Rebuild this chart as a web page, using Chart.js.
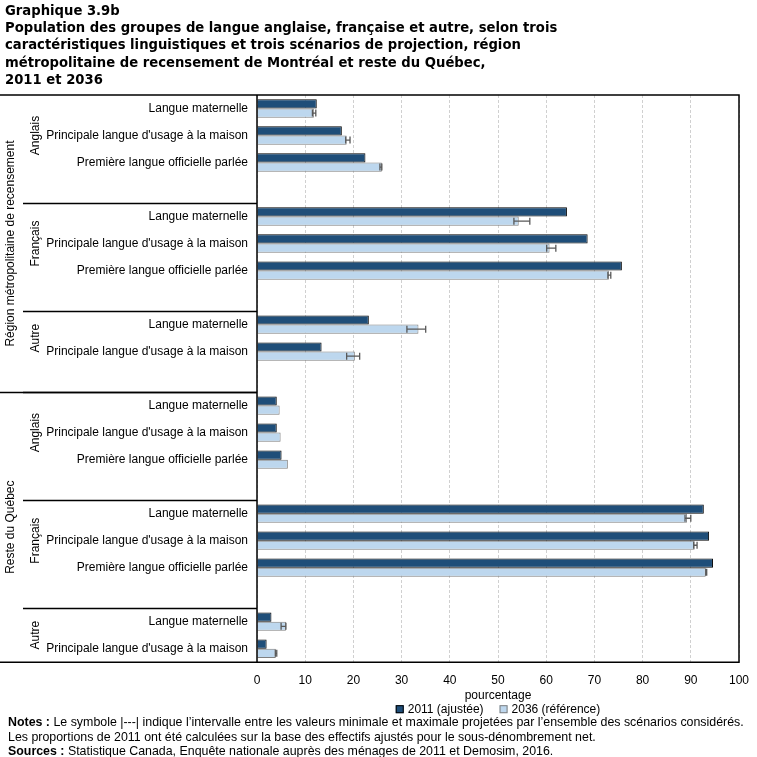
<!DOCTYPE html>
<html lang="fr">
<head>
<meta charset="utf-8">
<script src="https://cdn.jsdelivr.net/npm/chart.js@4.4.1/dist/chart.umd.min.js"></script>
<style>
  body { margin: 0; background: #fff; }
  #wrap { position: relative; width: 757px; height: 757px; }
  #chart { position: absolute; left: 0; top: 0; }
  #title {
    position: absolute; left: 5px; top: 2px;
    font: bold 13.2px "DejaVu Sans", Verdana, sans-serif; line-height: 17.2px; color: #000;
  }
  #notes {
    position: absolute; left: 8px; top: 715px;
    font: 12.4px "Liberation Sans", Arial, sans-serif; line-height: 14.5px; color: #000;
  }
</style>
</head>
<body>
<div id="wrap">
  <canvas id="chart" width="757" height="757"></canvas>
  <div id="title">Graphique 3.9b<br>Population des groupes de langue anglaise, française et autre, selon trois<br>caractéristiques linguistiques et trois scénarios de projection, région<br>métropolitaine de recensement de Montréal et reste du Québec,<br>2011 et 2036</div>
  <div id="notes"><b>Notes :</b> Le symbole |---| indique l’intervalle entre les valeurs minimale et maximale projetées par l’ensemble des scénarios considérés.<br>Les proportions de 2011 ont été calculées sur la base des effectifs ajustés pour le sous-dénombrement net.<br><b>Sources :</b> Statistique Canada, Enquête nationale auprès des ménages de 2011 et Demosim, 2016.</div>
</div>
<script>
// --- Data ---
const LM = "Langue maternelle";
const PL = "Principale langue d'usage à la maison";
const PO = "Première langue officielle parlée";

const rowLabels = [LM, PL, PO, "", LM, PL, PO, "", LM, PL, "",
                   LM, PL, PO, "", LM, PL, PO, "", LM, PL];
const rowGroups = ["Anglais", "Anglais", "Anglais", "Anglais",
                   "Français", "Français", "Français", "Français",
                   "Autre", "Autre", "Autre",
                   "Anglais", "Anglais", "Anglais", "Anglais",
                   "Français", "Français", "Français", "Français",
                   "Autre", "Autre"];
const RMR = "Région métropolitaine de recensement";
const RQ = "Reste du Québec";
const rowRegions = [RMR, RMR, RMR, RMR, RMR, RMR, RMR, RMR, RMR, RMR, RMR,
                    RQ, RQ, RQ, RQ, RQ, RQ, RQ, RQ, RQ, RQ];

const values2011 = [12.4, 17.6, 22.5, null, 64.3, 68.6, 75.7, null, 23.2, 13.4, null,
                    4.1, 4.1, 5.1, null, 92.7, 93.8, 94.6, null, 3.0, 2.0];
const values2036 = [11.8, 18.6, 25.9, null, 54.3, 60.7, 73.0, null, 33.5, 20.3, null,
                    4.7, 4.9, 6.4, null, 89.2, 90.8, 93.1, null, 6.0, 3.9];
// projected range over all scenarios (2036)
const min2036 = [11.5, 18.4, 25.5, null, 53.3, 60.1, 72.8, null, 31.1, 18.6, null,
                 null, null, null, null, 88.8, 90.6, 93.1, null, 5.0, 3.8];
const max2036 = [12.2, 19.3, 25.9, null, 56.6, 62.0, 73.4, null, 35.0, 21.3, null,
                 null, null, null, null, 90.0, 91.3, 93.3, null, 6.0, 4.1];

const xTicks = [0, 10, 20, 30, 40, 50, 60, 70, 80, 90, 100];

// --- Helpers ---
function runs(arr) {
  const out = [];
  arr.forEach((v, i) => {
    if (i === 0 || arr[i - 1] !== v) out.push({ name: v, start: i, end: i });
    else out[out.length - 1].end = i;
  });
  return out;
}

const LABEL_FONT = '12px "Liberation Sans", Arial, sans-serif';

// error bars on the 2036 series
const errorBars = {
  id: "errorBars",
  afterDatasetsDraw(chart) {
    const ctx = chart.ctx;
    const meta = chart.getDatasetMeta(1);
    const xs = chart.scales.x;
    ctx.save();
    ctx.strokeStyle = "#595959";
    ctx.lineWidth = 1.3;
    meta.data.forEach((bar, i) => {
      if (min2036[i] == null || max2036[i] == null) return;
      const x1 = xs.getPixelForValue(min2036[i]);
      const x2 = xs.getPixelForValue(max2036[i]);
      const y = bar.y;
      const h = 3.5;
      ctx.beginPath();
      ctx.moveTo(x1, y); ctx.lineTo(x2, y);
      ctx.moveTo(x1, y - h); ctx.lineTo(x1, y + h);
      ctx.moveTo(x2, y - h); ctx.lineTo(x2, y + h);
      ctx.stroke();
    });
    ctx.restore();
  }
};

// frame, separators, the three levels of row labels and the legend
const sideLabels = {
  id: "sideLabels",
  afterDraw(chart) {
    const ctx = chart.ctx;
    const ys = chart.scales.y;
    const area = chart.chartArea;
    const rowH = ys.getPixelForValue(1) - ys.getPixelForValue(0);
    const top = (i) => ys.getPixelForValue(i) - rowH / 2;
    const bottom = (i) => ys.getPixelForValue(i) + rowH / 2;

    ctx.save();
    ctx.fillStyle = "#000";
    ctx.font = LABEL_FONT;

    // category labels
    ctx.textAlign = "right";
    ctx.textBaseline = "middle";
    rowLabels.forEach((lab, i) => {
      if (lab) ctx.fillText(lab, area.left - 9, ys.getPixelForValue(i));
    });

    ctx.strokeStyle = "#000";
    ctx.lineWidth = 1.5;

    // language groups
    runs(rowGroups.map((g, i) => rowRegions[i] + "|" + g)).forEach((r, k) => {
      const name = r.name.split("|")[1];
      let last = r.end;
      while (last > r.start && !rowLabels[last]) last--;
      const cy = (top(r.start) + bottom(last)) / 2;
      ctx.save();
      ctx.translate(36, cy);
      ctx.rotate(-Math.PI / 2);
      ctx.textAlign = "center";
      ctx.fillText(name, 0, 0);
      ctx.restore();
      if (k > 0) {
        ctx.beginPath();
        ctx.moveTo(23, Math.round(top(r.start)) + 0.5);
        ctx.lineTo(area.left, Math.round(top(r.start)) + 0.5);
        ctx.stroke();
      }
    });

    // regions
    runs(rowRegions).forEach((r, k) => {
      const cy = (top(r.start) + bottom(r.end)) / 2;
      ctx.save();
      ctx.translate(11, cy);
      ctx.rotate(-Math.PI / 2);
      ctx.textAlign = "center";
      ctx.fillText(r.name, 0, 0);
      ctx.restore();
      if (k > 0) {
        ctx.beginPath();
        ctx.moveTo(0, Math.round(top(r.start)) + 0.5);
        ctx.lineTo(area.left, Math.round(top(r.start)) + 0.5);
        ctx.stroke();
      }
    });

    // outer frame
    ctx.beginPath();
    ctx.moveTo(0, area.top); ctx.lineTo(area.right, area.top);
    ctx.lineTo(area.right, area.bottom); ctx.lineTo(0, area.bottom);
    ctx.moveTo(area.left, area.top); ctx.lineTo(area.left, area.bottom);
    ctx.stroke();

    // legend
    const sets = chart.data.datasets;
    const box = 8, gap = 4, spacing = 16;
    const widths = sets.map((d) => ctx.measureText(d.label).width);
    const total = widths.reduce((a, w) => a + box + gap + w, 0) + spacing * (sets.length - 1);
    let lx = (area.left + area.right) / 2 - total / 2;
    const ly = area.bottom + 47;
    ctx.textAlign = "left";
    ctx.lineWidth = 1;
    sets.forEach((d, i) => {
      ctx.fillStyle = d.backgroundColor;
      ctx.fillRect(lx, ly - box / 2, box, box);
      ctx.strokeStyle = d.borderColor;
      ctx.strokeRect(lx + 0.5, ly - box / 2 + 0.5, box - 1, box - 1);
      ctx.fillStyle = "#000";
      ctx.fillText(d.label, lx + box + gap, ly);
      lx += box + gap + widths[i] + spacing;
    });
    ctx.restore();
  }
};

Chart.defaults.font.family = '"Liberation Sans", Arial, sans-serif';
Chart.defaults.font.size = 12;
Chart.defaults.color = "#000";

new Chart(document.getElementById("chart"), {
  type: "bar",
  data: {
    labels: rowLabels,
    datasets: [
      {
        label: "2011 (ajustée)",
        data: values2011,
        backgroundColor: "#1f4e79",
        borderColor: "#000000",
        borderWidth: 1
      },
      {
        label: "2036 (référence)",
        data: values2036,
        backgroundColor: "#bdd7ee",
        borderColor: "#7f7f7f",
        borderWidth: 1
      }
    ]
  },
  options: {
    indexAxis: "y",
    responsive: false,
    animation: false,
    layout: { padding: { left: 257, top: 95, right: 18, bottom: 54 } },
    datasets: { bar: { categoryPercentage: 0.68, barPercentage: 1 } },
    scales: {
      y: { display: false },
      x: {
        min: 0,
        max: 100,
        afterBuildTicks: (s) => { s.ticks = xTicks.map((v) => ({ value: v })); },
        afterFit: (s) => { s.paddingRight = 0; s.paddingLeft = 0; },
        grid: { color: "#d0d0d0", drawTicks: false },
        border: { display: false, dash: [3, 2] },
        ticks: { padding: 11 },
        title: { display: true, text: "pourcentage", padding: { top: -10, bottom: 0 } }
      }
    },
    plugins: {
      legend: { display: false },
      tooltip: { enabled: false }
    }
  },
  plugins: [errorBars, sideLabels]
});
</script>
</body>
</html>
